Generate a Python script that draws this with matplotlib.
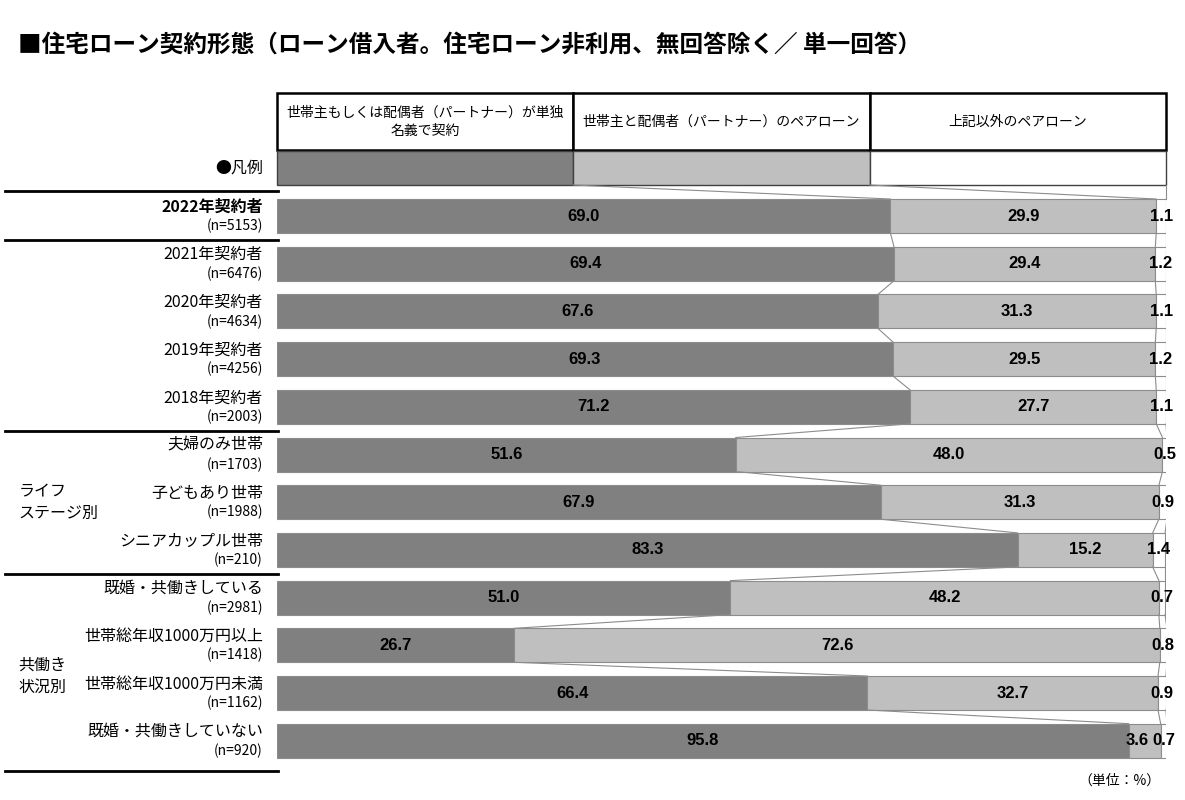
import matplotlib.pyplot as plt
from matplotlib.patches import Rectangle
import numpy as np

plt.rcParams['font.family'] = ['Noto Sans CJK JP', 'DejaVu Sans']

title = "■住宅ローン契約形態（ローン借入者。住宅ローン非利用、無回答除く／ 単一回答）"
series = ["世帯主もしくは配偶者（パートナー）が単独\n名義で契約",
          "世帯主と配偶者（パートナー）のペアローン",
          "上記以外のペアローン"]
labels = ["2022年契約者", "2021年契約者", "2020年契約者", "2019年契約者", "2018年契約者",
          "夫婦のみ世帯", "子どもあり世帯", "シニアカップル世帯",
          "既婚・共働きしている", "世帯総年収1000万円以上", "世帯総年収1000万円未満",
          "既婚・共働きしていない"]
counts = ["(n=5153)", "(n=6476)", "(n=4634)", "(n=4256)", "(n=2003)",
          "(n=1703)", "(n=1988)", "(n=210)",
          "(n=2981)", "(n=1418)", "(n=1162)", "(n=920)"]
single = [69.0, 69.4, 67.6, 69.3, 71.2, 51.6, 67.9, 83.3, 51.0, 26.7, 66.4, 95.8]
pair = [29.9, 29.4, 31.3, 29.5, 27.7, 48.0, 31.3, 15.2, 48.2, 72.6, 32.7, 3.6]
other = [1.1, 1.2, 1.1, 1.2, 1.1, 0.5, 0.9, 1.4, 0.7, 0.8, 0.9, 0.7]
groups = ["ライフ\nステージ別", "共働き\n状況別"]
group_pos = [6, 9.65]
separators = [-0.52, 0.5, 4.5, 7.5, 11.63]

colors = ['#808080', '#bfbfbf', 'white']
edge = '#8c8c8c'
h = 0.713

W, H = 1185, 800
fig = plt.figure(figsize=(W / 100, H / 100), dpi=100)
ax = fig.add_axes([277 / W, (H - 771) / H, 889 / W, (771 - 93) / H])
ax.set_xlim(0, 100)
ax.set_ylim(11.635, -2.579)
ax.axis('off')

y = np.arange(len(labels))
data = np.array([single, pair, other])
left = np.zeros(len(labels))
cums = []
for k in range(3):
    ax.barh(y, data[k], left=left, height=h, color=colors[k], edgecolor=edge, linewidth=0.8)
    for i in range(len(labels)):
        v = data[k][i]
        if k < 2 and v < 5:
            # narrow segment: keep the number clear of the last segment's label
            tx, ha = left[i] + v - 1.3, 'right'
        else:
            tx, ha = left[i] + v / 2, 'center'
        ax.text(tx, y[i], f"{v:.1f}", ha=ha, va='center',
                fontsize=12, fontweight='bold', family=['Liberation Sans', 'DejaVu Sans'])
    left = left + data[k]
    cums.append(left.copy())
cums = np.array(cums)

# connecting lines between bars
for i in range(len(labels) - 1):
    for k in range(3):
        ax.plot([cums[k][i], cums[k][i + 1]], [i + h / 2, i + 1 - h / 2], color='#8c8c8c', lw=0.8)
leg_top, leg_h = -1.363, 0.713
for k in range(3):
    ax.plot([(k + 1) * 100 / 3, cums[k][0]], [leg_top + leg_h, -h / 2], color='#8c8c8c', lw=0.8,
            clip_on=False)

# header table and legend boxes
for k in range(3):
    ax.add_patch(Rectangle((k * 100 / 3, -2.579), 100 / 3, 1.2, facecolor='white',
                           edgecolor='black', lw=1.8, clip_on=False))
    ax.text(k * 100 / 3 + 50 / 3, -1.98, series[k], ha='center', va='center', fontsize=10,
            linespacing=1.4)
    ax.add_patch(Rectangle((k * 100 / 3, leg_top), 100 / 3, leg_h, facecolor=colors[k],
                           edgecolor='#404040', lw=1.0, clip_on=False))
ax.text(-1.575, leg_top + leg_h / 2, "●凡例", ha='right', va='center', fontsize=11.5)

# row labels
for i in range(len(labels)):
    ax.text(-1.575, y[i] - 0.19, labels[i], ha='right', va='center', fontsize=11.5,
            fontweight='bold' if i == 0 else 'normal', clip_on=False)
    ax.text(-1.575, y[i] + 0.21, counts[i], ha='right', va='center', fontsize=10, clip_on=False)
for g, p in zip(groups, group_pos):
    ax.text(-29.1, p, g, ha='left', va='center', fontsize=11.5, linespacing=1.35)
for s in separators:
    ax.plot([-30.6, 0.1], [s, s], color='black', lw=2, clip_on=False)

fig.text(18 / W, 1 - 45 / H, title, ha='left', va='center', fontsize=17, fontweight='bold')
fig.text(1160 / W, 1 - 781 / H, "（単位：%）", ha='right', va='center', fontsize=10)

fig.savefig('out.png', dpi=100)
